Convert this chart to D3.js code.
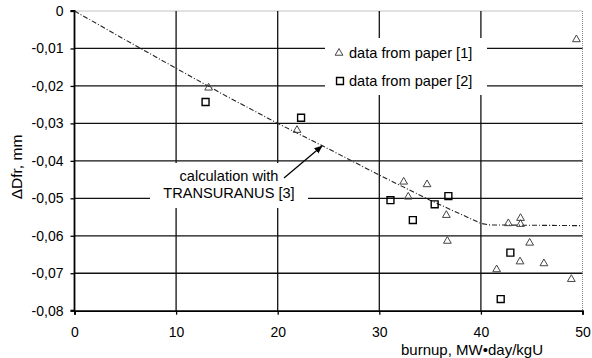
<!DOCTYPE html>
<html lang="en">
<head>
  <meta charset="UTF-8">
  <title>Dfr vs burnup</title>
  <script src="https://d3js.org/d3.v7.min.js"></script>
  <style>
    html, body { margin: 0; padding: 0; background: #fff; }
    svg text { font-family: "Liberation Sans", Arial, sans-serif; fill: #000; }
  </style>
</head>
<body>
<svg id="chart" width="592" height="358"></svg>
<script>
// ---- data ----
const xTicks = [0, 10, 20, 30, 40, 50];
const yTicks = [0, -0.01, -0.02, -0.03, -0.04, -0.05, -0.06, -0.07, -0.08];

// TRANSURANUS calculation
const calcBurnup = [0, 5, 10, 15, 20, 25, 30, 35, 40, 40.8, 50];
const calcDfr    = [0, -0.0077, -0.0153, -0.0228, -0.030, -0.0368, -0.0438, -0.0505, -0.0567, -0.0571, -0.0573];

// data from paper [1] (triangles)
const p1Burnup = [13.2, 21.9, 32.4, 34.7, 32.85, 36.6, 36.7, 42.7, 43.9, 43.9, 44.8, 43.85, 46.2, 41.55, 48.9, 49.4];
const p1Dfr    = [-0.0205, -0.0318, -0.0456, -0.0463, -0.0496, -0.0545, -0.0614, -0.0567, -0.0553, -0.0569, -0.0619, -0.0669, -0.0674, -0.069, -0.0716, -0.0076];

// data from paper [2] (squares)
const p2Burnup = [12.9, 22.3, 31.1, 33.3, 35.45, 36.8, 42.9, 41.95];
const p2Dfr    = [-0.0243, -0.0285, -0.0505, -0.0558, -0.0516, -0.0494, -0.0645, -0.0769];

const legendLabels = ["data from paper [1]", "data from paper [2]"];
const noteLines = ["calculation with", "TRANSURANUS [3]"];

// ---- layout ----
const svg = d3.select("#chart");
const pLeft = 74.5, pRight = 582.5, pTop = 11, pBottom = 310.7;
const x = d3.scaleLinear().domain([0, 50]).range([pLeft, pRight]);
const y = d3.scaleLinear().domain([-0.08, 0]).range([pBottom, pTop]);
const fmt = d => d === 0 ? "0" : d.toFixed(2).replace(".", ",");

// border (top and right dotted)
svg.append("path")
  .attr("d", `M${pLeft},${pTop}H${pRight}V${pBottom}`)
  .attr("fill", "none")
  .attr("stroke", "#888")
  .attr("stroke-width", 1)
  .attr("stroke-dasharray", "1,1");

// grid lines
svg.append("g").selectAll("line")
  .data(yTicks.filter(d => d !== 0 && d !== -0.08))
  .join("line")
    .attr("x1", pLeft).attr("x2", pRight)
    .attr("y1", d => y(d)).attr("y2", d => y(d))
    .attr("stroke", "#111").attr("stroke-width", 1.3);

svg.append("g").selectAll("line")
  .data(xTicks.filter(d => d !== 0 && d !== 50))
  .join("line")
    .attr("x1", d => x(d)).attr("x2", d => x(d))
    .attr("y1", pTop).attr("y2", pBottom)
    .attr("stroke", "#111").attr("stroke-width", 1.3);

// white boxes behind legend and note
svg.append("rect").attr("x", 325).attr("y", 38).attr("width", 162).attr("height", 57).attr("fill", "#fff");
svg.append("rect").attr("x", 150).attr("y", 163).attr("width", 158).attr("height", 45).attr("fill", "#fff");

// axes
const yAxis = svg.append("g")
  .attr("transform", `translate(${pLeft},0)`)
  .call(d3.axisLeft(y).tickValues(yTicks).tickFormat(fmt).tickSize(4).tickPadding(7));
const xAxis = svg.append("g")
  .attr("transform", `translate(0,${pBottom})`)
  .call(d3.axisBottom(x).tickValues(xTicks).tickFormat(d3.format("d")).tickSize(4).tickPadding(12));
[yAxis, xAxis].forEach(g => {
  g.select(".domain").attr("stroke", "#000").attr("stroke-width", 1.8);
  g.selectAll(".tick line").attr("stroke", "#000").attr("stroke-width", 1.3);
  g.selectAll(".tick text").attr("font-size", 14).attr("fill", "#000")
    .attr("font-family", "Liberation Sans, Arial, sans-serif");
});
yAxis.select(".domain").attr("d", `M-4,${pBottom}H0V${pTop}H-4`);

// calculation curve
const curve = calcBurnup.map((b, i) => [b, calcDfr[i]]);
svg.append("path")
  .datum(curve)
  .attr("d", d3.line().x(d => x(d[0])).y(d => y(d[1])))
  .attr("fill", "none")
  .attr("stroke", "#222")
  .attr("stroke-width", 1.1)
  .attr("stroke-dasharray", "5,2,1,2");

// markers
const tri = d3.symbol().type(d3.symbolTriangle).size(26);
const sq = d3.symbol().type(d3.symbolSquare).size(48);

svg.append("g").selectAll("path")
  .data(p1Burnup.map((b, i) => [b, p1Dfr[i]]))
  .join("path")
    .attr("transform", d => `translate(${x(d[0])},${y(d[1])})`)
    .attr("d", tri)
    .attr("fill", "none")
    .attr("stroke", "#444")
    .attr("stroke-width", 1);

svg.append("g").selectAll("path")
  .data(p2Burnup.map((b, i) => [b, p2Dfr[i]]))
  .join("path")
    .attr("transform", d => `translate(${x(d[0])},${y(d[1])})`)
    .attr("d", sq)
    .attr("fill", "none")
    .attr("stroke", "#000")
    .attr("stroke-width", 1.4);

// legend
const legend = svg.append("g");
legend.append("path").attr("transform", "translate(339,53)").attr("d", tri)
  .attr("fill", "none").attr("stroke", "#444").attr("stroke-width", 1);
legend.append("path").attr("transform", "translate(340,81)").attr("d", sq)
  .attr("fill", "none").attr("stroke", "#000").attr("stroke-width", 1.4);
legend.selectAll("text")
  .data(legendLabels)
  .join("text")
    .attr("x", 349)
    .attr("y", (d, i) => 58 + i * 28)
    .attr("font-size", 14.6)
    .text(d => d);

// note with arrow
svg.append("defs").append("marker")
  .attr("id", "arrow")
  .attr("viewBox", "0 0 10 10")
  .attr("refX", 9).attr("refY", 5)
  .attr("markerWidth", 7).attr("markerHeight", 7)
  .attr("orient", "auto")
  .append("path").attr("d", "M0,1L10,5L0,9Z").attr("fill", "#000");

svg.append("line")
  .attr("x1", 284).attr("y1", 178)
  .attr("x2", 322).attr("y2", 146)
  .attr("stroke", "#000").attr("stroke-width", 1.2)
  .attr("marker-end", "url(#arrow)");

svg.append("g").selectAll("text")
  .data(noteLines)
  .join("text")
    .attr("x", 229)
    .attr("y", (d, i) => 181 + i * 17)
    .attr("text-anchor", "middle")
    .attr("font-size", 14.6)
    .text(d => d);

// axis titles
svg.append("text")
  .attr("transform", "translate(22,167) rotate(-90)")
  .attr("text-anchor", "middle")
  .attr("font-size", 15.5)
  .text("ΔDfr, mm");

svg.append("text")
  .attr("x", 472)
  .attr("y", 355)
  .attr("text-anchor", "middle")
  .attr("font-size", 15)
  .text("burnup, MW•day/kgU");
</script>
</body>
</html>
